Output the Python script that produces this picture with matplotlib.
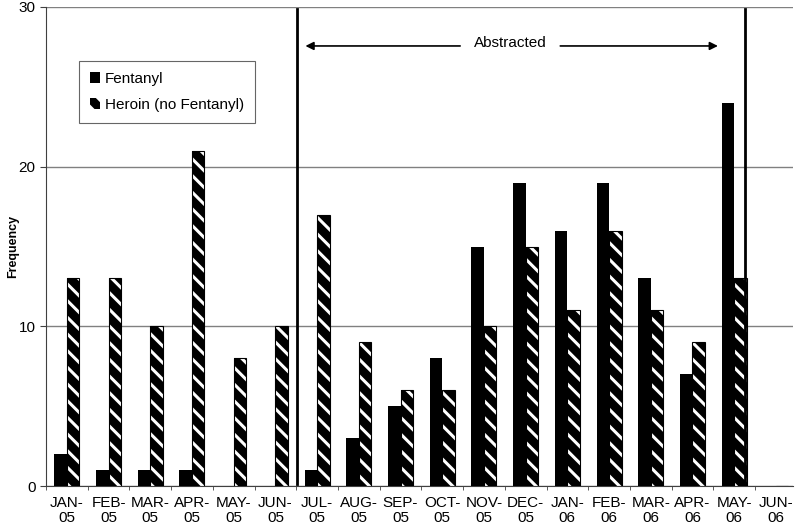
import numpy as np
import matplotlib.pyplot as plt

# ============================================================
#  Donnees
# ============================================================
mois = ['JAN-\n05', 'FEB-\n05', 'MAR-\n05', 'APR-\n05', 'MAY-\n05', 'JUN-\n05',
        'JUL-\n05', 'AUG-\n05', 'SEP-\n05', 'OCT-\n05', 'NOV-\n05', 'DEC-\n05',
        'JAN-\n06', 'FEB-\n06', 'MAR-\n06', 'APR-\n06', 'MAY-\n06', 'JUN-\n06']
fentanyl = [2, 1, 1, 1, 0, 0, 1, 3, 5, 8, 15, 19, 16, 19, 13, 7, 24, 0]
heroine = [13, 13, 10, 21, 8, 10, 17, 9, 6, 6, 10, 15, 11, 16, 11, 9, 13, 0]

plt.rcParams['font.family'] = ['Liberation Sans', 'DejaVu Sans']
plt.rcParams['hatch.linewidth'] = 2.2

fig = plt.figure(figsize=(7.98, 5.26), dpi=100)
ax = fig.add_axes([46 / 798, 40 / 526, 747 / 798, 479 / 526])

x = np.arange(len(mois))
w = 0.3
ax.bar(x - w / 2, fentanyl, w, color='black', label='Fentanyl', zorder=3)
ax.bar(x + w / 2, heroine, w, color='black', edgecolor='white', hatch='\\\\',
       linewidth=0, label='Heroin (no Fentanyl)', zorder=3)
ax.bar(x + w / 2, heroine, w, fill=False, edgecolor='black', linewidth=0.8, zorder=4)

ax.set_xlim(-0.5, 17.41)
ax.set_ylim(0, 30)
ax.set_yticks([0, 10, 20, 30])
ax.yaxis.grid(True, color='#808080', linewidth=1)
ax.set_axisbelow(True)
ax.spines['top'].set_visible(False)
ax.spines['right'].set_visible(False)
ax.spines['left'].set_color('#404040')
ax.spines['bottom'].set_color('#404040')

ax.set_xticks(x)
ax.set_xticklabels(mois, fontsize=11, linespacing=1.15)
ax.set_xticks(np.arange(len(mois)) - 0.5, minor=True)
ax.tick_params(axis='x', which='major', length=0, pad=7)
ax.tick_params(axis='x', which='minor', length=3, color='#404040')
ax.tick_params(axis='y', length=4.5, pad=3, direction='out', labelsize=11, color='#404040')
ax.set_ylabel('Frequency', fontsize=9, fontweight='bold')
ax.yaxis.set_label_coords(-0.036, 0.5)

# periode "Abstracted"
for xv in [5.51, 16.26]:
    ax.plot([xv, xv], [0.1, 29.9], color='black', linewidth=2, zorder=5)
ax.annotate('', xy=(5.72, 27.56), xytext=(9.43, 27.56),
            arrowprops=dict(arrowstyle='-|>', color='black', lw=1.2,
                            mutation_scale=12, shrinkA=0, shrinkB=0))
ax.annotate('', xy=(15.61, 27.56), xytext=(11.83, 27.56),
            arrowprops=dict(arrowstyle='-|>', color='black', lw=1.2,
                            mutation_scale=12, shrinkA=0, shrinkB=0))
ax.text(10.63, 27.75, 'Abstracted', ha='center', va='center', fontsize=11)

leg = ax.legend(loc='upper left', bbox_to_anchor=(33 / 747, 1 - 54 / 479),
                frameon=True, fancybox=False, edgecolor='#404040', fontsize=11,
                handlelength=0.7, handleheight=0.7, handletextpad=0.3,
                borderpad=0.7, labelspacing=0.8, borderaxespad=0)
leg.get_frame().set_linewidth(0.8)

plt.savefig('out.png', dpi=100)
